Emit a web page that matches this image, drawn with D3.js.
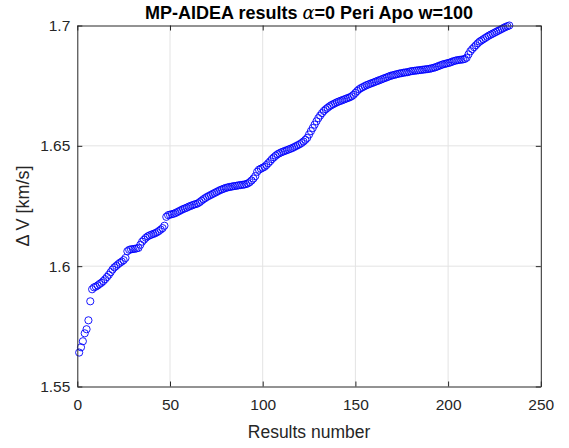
<!DOCTYPE html>
<html><head><meta charset="utf-8">
<script src="https://cdn.jsdelivr.net/npm/d3@7"></script>
<style>
body{margin:0;background:#fff;}
svg{display:block;font-family:"Liberation Sans",Arial,Helvetica,sans-serif;}
</style></head>
<body>
<svg id="chart" width="569" height="448"></svg>
<script>
const titleText = ["MP-AIDEA results ", "α", "=0 Peri Apo w=100"];
const xLabel = "Results number";
const yLabel = "Δ V [km/s]";
const xTicks = [0, 50, 100, 150, 200, 250];
const yTicks = [1.55, 1.6, 1.65, 1.7];
const yTickLabels = ["1.55", "1.6", "1.65", "1.7"];
const deltaV = [
1.5641,1.5663,1.5688,1.5721,1.5738,1.5775,1.5854,1.5904,1.5912,1.5915,
1.5920,1.5926,1.5931,1.5938,1.5946,1.5955,1.5964,1.5975,1.5986,1.5995,
1.6001,1.6008,1.6014,1.6019,1.6025,1.6034,1.6062,1.6068,1.6070,1.6071,
1.6072,1.6074,1.6076,1.6089,1.6102,1.6110,1.6118,1.6124,1.6128,1.6131,
1.6134,1.6137,1.6141,1.6146,1.6152,1.6158,1.6168,1.6205,1.6212,1.6214,
1.6216,1.6218,1.6221,1.6225,1.6229,1.6233,1.6237,1.6240,1.6243,1.6247,
1.6250,1.6253,1.6256,1.6258,1.6261,1.6266,1.6272,1.6278,1.6283,1.6288,
1.6292,1.6296,1.6300,1.6304,1.6308,1.6312,1.6316,1.6319,1.6322,1.6325,
1.6327,1.6329,1.6330,1.6332,1.6333,1.6334,1.6336,1.6337,1.6338,1.6339,
1.6341,1.6344,1.6349,1.6356,1.6364,1.6374,1.6392,1.6401,1.6405,1.6409,
1.6413,1.6420,1.6428,1.6436,1.6445,1.6452,1.6459,1.6465,1.6469,1.6473,
1.6476,1.6479,1.6482,1.6485,1.6488,1.6491,1.6495,1.6499,1.6503,1.6507,
1.6512,1.6518,1.6525,1.6533,1.6547,1.6561,1.6574,1.6588,1.6602,1.6615,
1.6626,1.6636,1.6645,1.6652,1.6658,1.6664,1.6669,1.6673,1.6677,1.6681,
1.6684,1.6687,1.6690,1.6693,1.6696,1.6699,1.6702,1.6706,1.6712,1.6720,
1.6728,1.6735,1.6740,1.6744,1.6748,1.6752,1.6755,1.6758,1.6761,1.6764,
1.6767,1.6770,1.6773,1.6776,1.6779,1.6782,1.6785,1.6788,1.6791,1.6793,
1.6795,1.6797,1.6799,1.6801,1.6802,1.6804,1.6805,1.6806,1.6808,1.6810,
1.6811,1.6812,1.6813,1.6814,1.6815,1.6816,1.6817,1.6818,1.6819,1.6820,
1.6822,1.6824,1.6826,1.6829,1.6832,1.6835,1.6838,1.6840,1.6842,1.6844,
1.6846,1.6849,1.6852,1.6854,1.6856,1.6857,1.6858,1.6859,1.6861,1.6866,
1.6880,1.6893,1.6902,1.6910,1.6918,1.6926,1.6933,1.6938,1.6943,1.6948,
1.6953,1.6958,1.6962,1.6966,1.6970,1.6974,1.6978,1.6982,1.6986,1.6990,
1.6994,1.6997,1.7000
];

const svg = d3.select("#chart");
const L = 77.3, R = 540.8, T = 25.5, B = 386.5;
const x = d3.scaleLinear().domain([0, 250]).range([L, R]);
const y = d3.scaleLinear().domain([1.55, 1.7]).range([B, T]);
const axisColor = "#262626";

// grid
const g = svg.append("g");
g.selectAll(".gx").data(xTicks.slice(1, -1)).enter().append("line")
  .attr("x1", d => x(d)).attr("x2", d => x(d)).attr("y1", T).attr("y2", B)
  .attr("stroke", "#e3e3e3").attr("stroke-width", 1);
g.selectAll(".gy").data(yTicks.slice(1, -1)).enter().append("line")
  .attr("x1", L).attr("x2", R).attr("y1", d => y(d)).attr("y2", d => y(d))
  .attr("stroke", "#e3e3e3").attr("stroke-width", 1);

// data
svg.append("g").selectAll("circle").data(deltaV).enter().append("circle")
  .attr("cx", (d, i) => x(i + 1)).attr("cy", d => y(d)).attr("r", 3.6)
  .attr("fill", "none").attr("stroke", "#0000ff").attr("stroke-width", 0.9);

// axes
const tickLen = 5;
const ax = svg.append("g").attr("transform", `translate(0,${B})`)
  .call(d3.axisBottom(x).tickValues(xTicks).tickSize(-tickLen).tickSizeOuter(0).tickPadding(12).tickFormat(d3.format("d")));
const axT = svg.append("g").attr("transform", `translate(0,${T})`)
  .call(d3.axisTop(x).tickValues(xTicks).tickSize(-tickLen).tickSizeOuter(0).tickFormat(""));
const ay = svg.append("g").attr("transform", `translate(${L},0)`)
  .call(d3.axisLeft(y).tickValues(yTicks).tickSize(-tickLen).tickSizeOuter(0).tickPadding(7).tickFormat((d, i) => yTickLabels[i]));
const ayR = svg.append("g").attr("transform", `translate(${R},0)`)
  .call(d3.axisRight(y).tickValues(yTicks).tickSize(-tickLen).tickSizeOuter(0).tickFormat(""));
[ax, axT, ay, ayR].forEach(a => {
  a.select(".domain").attr("stroke", axisColor);
  a.selectAll(".tick line").attr("stroke", axisColor);
  a.selectAll(".tick text").attr("fill", axisColor).attr("font-size", 15.5)
    .attr("font-family", "Liberation Sans, Arial, sans-serif");
});

// title
const t = svg.append("text").attr("x", (L + R) / 2).attr("y", 19)
  .attr("text-anchor", "middle").attr("font-size", 18).attr("font-weight", "bold").attr("fill", "#000");
t.append("tspan").text(titleText[0]);
t.append("tspan").text(titleText[1]).attr("font-family", "DejaVu Serif, Liberation Serif, serif").attr("font-style", "italic").attr("font-weight", "normal");
t.append("tspan").text(titleText[2]);

// labels
svg.append("text").attr("x", (L + R) / 2).attr("y", 438).attr("text-anchor", "middle")
  .attr("font-size", 17.5).attr("fill", axisColor).text(xLabel);
svg.append("text").attr("transform", `translate(29,${(T + B) / 2}) rotate(-90)`).attr("text-anchor", "middle")
  .attr("font-size", 18).attr("fill", axisColor).text(yLabel);
</script>
</body></html>
